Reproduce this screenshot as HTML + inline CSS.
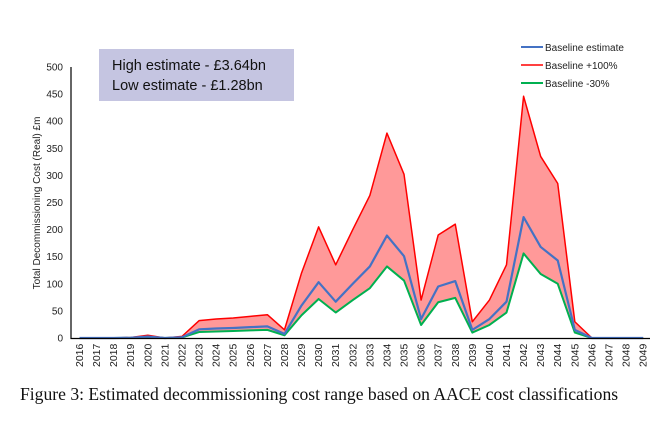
<!DOCTYPE html>
<html><head><meta charset="utf-8"><style>
body{margin:0;background:#fff;width:666px;height:421px;overflow:hidden}
svg{display:block;font-family:"Liberation Sans",sans-serif}
</style></head><body>
<svg id="c" width="666" height="421">
<rect x="99" y="49" width="195" height="52" fill="#c5c5e1"/>
<text x="112" y="70" font-size="14.5" fill="#111">High estimate - £3.64bn</text>
<text x="112" y="90" font-size="14.5" fill="#111">Low estimate - £1.28bn</text>
<g>
<line x1="521" y1="47" x2="543" y2="47" stroke="#4472c4" stroke-width="2"/>
<text x="545" y="51" font-size="10" fill="#222">Baseline estimate</text>
<line x1="521" y1="65" x2="543" y2="65" stroke="#ff0000" stroke-width="1.5"/>
<text x="545" y="69" font-size="10" fill="#222">Baseline +100%</text>
<line x1="521" y1="83" x2="543" y2="83" stroke="#00b050" stroke-width="2"/>
<text x="545" y="87" font-size="10" fill="#222">Baseline -30%</text>
</g>
<text transform="translate(40,203) rotate(-90)" text-anchor="middle" font-size="10" fill="#222">Total Decommissioning Cost (Real) £m</text>
<text x="20" y="400" font-family="Liberation Serif" font-size="17.6" fill="#111">Figure 3: Estimated decommissioning cost range based on AACE cost classifications</text>
</svg>
<script>
const years=[2016,2017,2018,2019,2020,2021,2022,2023,2024,2025,2026,2027,2028,2029,2030,2031,2032,2033,2034,2035,2036,2037,2038,2039,2040,2041,2042,2043,2044,2045,2046,2047,2048,2049];
const high=[0,0,0,1,5,0,3,32,35,37,40,43,15,120,205,135,200,263,378,302,70,190,210,30,70,135,446,335,285,30,0,0,0,0];
const base=[0,0,0,0.5,2.5,0,1.5,16,17.5,18.5,20,21.5,7.5,60,103,67,100,132,189,151,35,95,105,15,35,67,223,168,143,15,0,0,0,0];
const low=[0,0,0,0.3,1.8,0,1,11,12,13,14,15,5,42,72,47,70,92,132,106,24,66,74,10,24,47,156,118,100,10,0,0,0,0];
const yTicks=[0,50,100,150,200,250,300,350,400,450,500];
const svg=document.getElementById('c');const NS='http://www.w3.org/2000/svg';
const x=i=>79.5+i*17.08;const y=v=>338-v*0.542;
function mk(t,a){const e=document.createElementNS(NS,t);for(const k in a)e.setAttribute(k,a[k]);svg.appendChild(e);return e;}
let d='';high.forEach((v,i)=>d+=(i?'L':'M')+x(i)+','+y(v));
for(let i=low.length-1;i>=0;i--)d+='L'+x(i)+','+y(low[i]);
const band=mk('path',{d:d+'Z',fill:'#ff9999'});


function line(arr,col,w,name){const p=mk('path',{d:arr.map((v,i)=>(i?'L':'M')+x(i)+','+y(v)).join(''),fill:'none',stroke:col,'stroke-width':w,'stroke-linejoin':'round'});

}
line(low,'#00b050',2,'line-minus30');
line(high,'#ff0000',1.5,'line-plus100');
line(base,'#4472c4',2.2,'line-baseline');
const ax=mk('path',{d:'M71,'+y(500)+'V338.5H650',stroke:'#000','stroke-width':1.2,fill:'none'});


yTicks.forEach(t=>{const e=mk('text',{x:63,y:y(t)+3.5,'text-anchor':'end','font-size':10,fill:'#222'});e.textContent=t;

});
years.forEach((yr,i)=>{const e=mk('text',{transform:'translate('+(x(i)+3.5)+',367) rotate(-90)','font-size':10.5,fill:'#222'});e.textContent=yr;

});
</script>
</body></html>
